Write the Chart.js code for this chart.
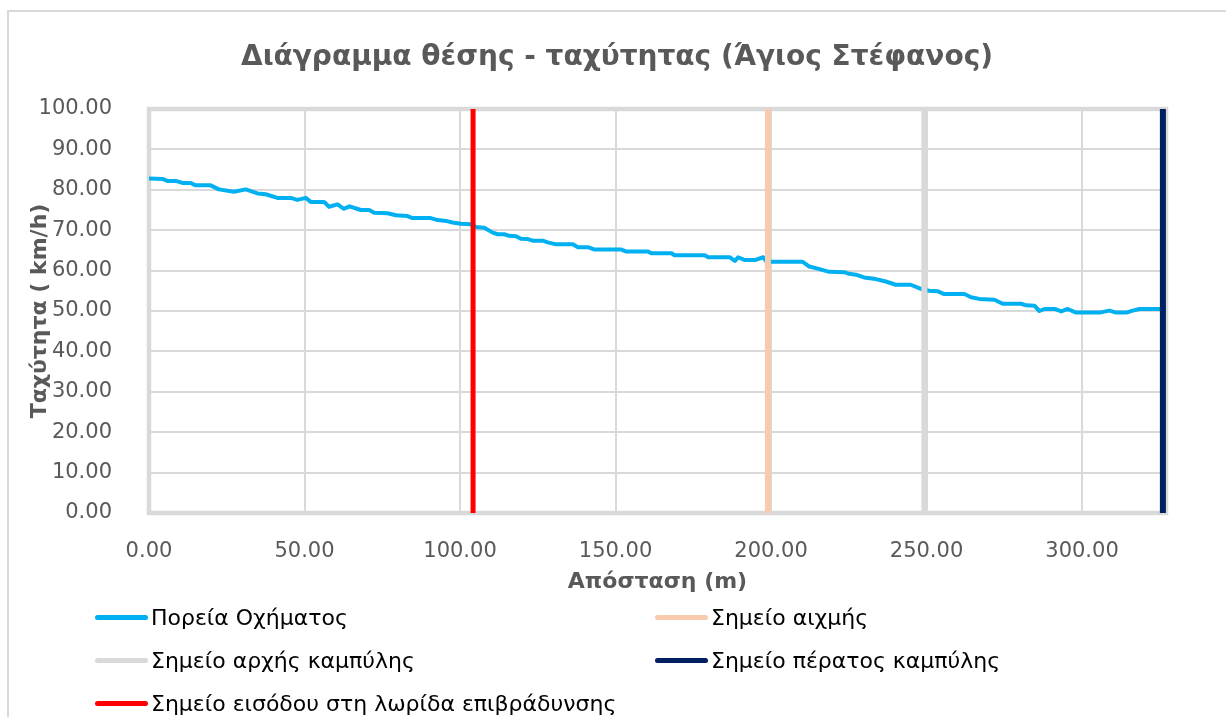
<!DOCTYPE html>
<html lang="el">
<head>
<meta charset="utf-8">
<title>Διάγραμμα θέσης - ταχύτητας</title>
<script src="https://cdn.jsdelivr.net/npm/chart.js@4.4.1/dist/chart.umd.min.js"></script>
<style>
  html, body { margin: 0; padding: 0; background: #fff; overflow: hidden; }
  #wrap { position: relative; width: 1226px; height: 717px; overflow: hidden; }
  #frame { position: absolute; left: 7px; top: 10px; width: 1300px; height: 800px;
           border: 2px solid #d9d9d9; box-sizing: border-box; }
  #chart { position: absolute; left: 0; top: 0; }
  .leg { position: absolute; height: 30px; display: flex; align-items: center;
         font-family: "DejaVu Sans", sans-serif; font-size: 22px; color: #000; white-space: nowrap; }
  .leg i { display: inline-block; width: 53px; height: 5px; border-radius: 3px; margin-right: 3px; }
</style>
</head>
<body>
<div id="wrap">
  <div id="frame"></div>
  <canvas id="chart" width="1226" height="717"></canvas>
  <div id="legend"></div>
</div>
<script>
// Distance along the ramp (m) and recorded vehicle speed (km/h)
const distance = [
  0, 4.3, 5.9, 8.6, 10.7, 13.4, 15.0, 19.8, 22.5, 27.3, 31.1, 34.9, 37.5, 41.3, 45.6,
  47.7, 50.4, 52.0, 56.3, 57.9, 60.6, 62.7, 64.5, 68.1, 70.8, 72.4, 76.7, 79.4, 83.1, 84.7,
  90.6, 92.8, 95.5, 97.6, 100.3, 103.5, 105.1, 107.8, 110.5, 112.1, 114.2, 115.8, 118.0, 119.6, 121.8,
  123.4, 126.6, 128.2, 130.9, 136.3, 137.9, 141.1, 143.3, 151.9, 153.5, 160.5, 161.5, 168.0, 169.0, 178.7,
  179.8, 186.8, 188.4, 189.4, 191.6, 194.8, 197.5, 198.6, 210.1, 212.3, 215.0, 218.7, 223.5, 225.1, 227.3,
  229.9, 233.7, 236.9, 240.1, 244.9, 248.2, 250.8, 253.5, 255.7, 262.2, 264.3, 267.0, 271.8, 274.5, 280.4,
  282.0, 284.7, 286.3, 287.9, 291.2, 293.3, 295.4, 298.1, 305.6, 308.8, 311.0, 314.2, 316.3, 318.5, 327.0
];
const speed = [
  82.8, 82.7, 82.2, 82.2, 81.7, 81.7, 81.1, 81.1, 80.1, 79.5, 80.1, 79.1, 78.9, 78.0, 78.0,
  77.5, 78.0, 77.0, 77.0, 75.8, 76.4, 75.3, 75.9, 75.0, 75.0, 74.3, 74.2, 73.7, 73.5, 73.0,
  73.0, 72.5, 72.3, 71.9, 71.6, 71.5, 70.8, 70.6, 69.4, 69.0, 69.0, 68.6, 68.5, 67.9, 67.8,
  67.4, 67.4, 67.0, 66.5, 66.5, 65.8, 65.8, 65.2, 65.2, 64.7, 64.7, 64.3, 64.3, 63.8, 63.8,
  63.3, 63.3, 62.4, 63.3, 62.6, 62.6, 63.3, 62.2, 62.2, 61.0, 60.5, 59.7, 59.6, 59.2, 59.0,
  58.3, 57.9, 57.3, 56.5, 56.5, 55.5, 55.0, 54.9, 54.2, 54.2, 53.4, 53.0, 52.8, 51.8, 51.8,
  51.4, 51.3, 50.0, 50.5, 50.5, 49.9, 50.5, 49.6, 49.6, 50.1, 49.6, 49.6, 50.1, 50.5, 50.5
];

// Reference points along the road (m)
const markerNames = [
  "Σημείο αιχμής",
  "Σημείο αρχής καμπύλης",
  "Σημείο πέρατος καμπύλης",
  "Σημείο εισόδου στη λωρίδα επιβράδυνσης"
];
const markerPositions = [199.0, 249.3, 326.0, 104.2];
const markerColors = ["#f8cbad", "#d9d9d9", "#002060", "#ff0000"];
const markerWidths = [6, 6, 6, 5];

const speedRange = [0, 100];
const distanceRange = [0, 327];

const chartTitle = "Διάγραμμα θέσης - ταχύτητας (Άγιος Στέφανος)";
const trackLabel = "Πορεία Οχήματος";
const trackColor = "#00b0f0";

const datasets = [{
  label: trackLabel,
  data: distance.map((d, i) => ({ x: d, y: speed[i] })),
  borderColor: trackColor,
  backgroundColor: trackColor,
  borderWidth: 4,
  pointRadius: 0,
  tension: 0,
  borderJoinStyle: "round",
  order: 2
}];
markerNames.forEach((name, i) => {
  datasets.push({
    label: name,
    data: speedRange.map(v => ({ x: markerPositions[i], y: v })),
    borderColor: markerColors[i],
    backgroundColor: markerColors[i],
    borderWidth: markerWidths[i],
    borderCapStyle: "butt",
    pointRadius: 0,
    order: 1
  });
});

// Thick light frame round the plotting area
const plotFrame = {
  id: "plotFrame",
  beforeDatasetsDraw(chart) {
    const { ctx, chartArea: a } = chart;
    ctx.save();
    ctx.strokeStyle = "#d9d9d9";
    ctx.lineWidth = 4.5;
    ctx.strokeRect(a.left, a.top, a.right - a.left, a.bottom - a.top);
    ctx.restore();
  }
};

// Heading centred on the whole card rather than on the plot
const cardTitle = {
  id: "cardTitle",
  afterDraw(chart) {
    const { ctx, width } = chart;
    ctx.save();
    ctx.fillStyle = "#595959";
    ctx.font = "bold 28px 'DejaVu Sans'";
    ctx.textAlign = "center";
    ctx.textBaseline = "middle";
    ctx.fillText(chartTitle, width / 2 + 4, 58);
    ctx.restore();
  }
};

const tickFont = { family: "DejaVu Sans", size: 21 };
const titleFont = { family: "DejaVu Sans", size: 22, weight: "bold" };

new Chart(document.getElementById("chart"), {
  type: "line",
  data: { datasets },
  options: {
    responsive: false,
    animation: false,
    layout: { padding: { left: 0, right: 60, top: 109, bottom: 122 } },
    plugins: {
      legend: { display: false },
      tooltip: { enabled: false },
      title: { display: false }
    },
    scales: {
      x: {
        type: "linear",
        min: distanceRange[0],
        max: distanceRange[1],
        ticks: {
          stepSize: 50,
          includeBounds: false,
          color: "#595959",
          font: tickFont,
          padding: 26,
          maxRotation: 0,
          callback: v => v.toFixed(2)
        },
        grid: { color: "#d9d9d9", lineWidth: 2, drawTicks: false },
        border: { display: false },
        title: {
          display: true,
          text: "Απόσταση (m)",
          color: "#595959",
          font: titleFont,
          padding: { top: 0, bottom: 0 }
        },
        afterFit(scale) { scale.height = 82; }
      },
      y: {
        min: speedRange[0],
        max: speedRange[1],
        ticks: {
          stepSize: 10,
          color: "#595959",
          font: tickFont,
          padding: 37,
          callback: v => v.toFixed(2)
        },
        grid: { color: "#d9d9d9", lineWidth: 2, drawTicks: false },
        border: { display: false },
        title: {
          display: true,
          text: "Ταχύτητα ( km/h)",
          color: "#595959",
          font: titleFont,
          padding: { top: 27, bottom: 0 }
        },
        afterFit(scale) { scale.width = 149; }
      }
    }
  },
  plugins: [plotFrame, cardTitle]
});

// Two-column legend under the chart, built from the datasets
const legendSlots = [
  { left: 95, top: 602 }, { left: 655, top: 602 },
  { left: 95, top: 645 }, { left: 655, top: 645 },
  { left: 95, top: 688 }
];
const legendBox = document.getElementById("legend");
datasets.forEach((ds, i) => {
  const item = document.createElement("div");
  item.className = "leg";
  item.style.left = legendSlots[i].left + "px";
  item.style.top = legendSlots[i].top + "px";
  const swatch = document.createElement("i");
  swatch.style.background = ds.borderColor;
  item.appendChild(swatch);
  item.appendChild(document.createTextNode(ds.label));
  legendBox.appendChild(item);
});
</script>
</body>
</html>
